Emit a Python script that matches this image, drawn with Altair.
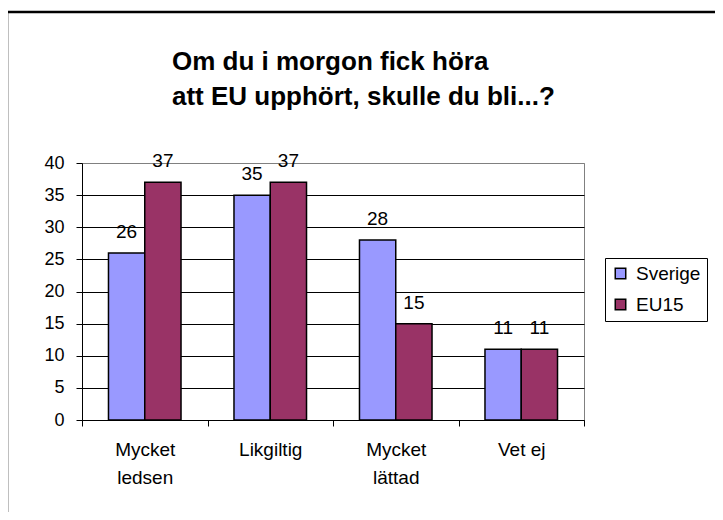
import altair as alt
import pandas as pd

categories = ["Mycket\nledsen", "Likgiltig", "Mycket\nlättad", "Vet ej"]
series = ["Sverige", "EU15"]
sverige = [26, 35, 28, 11]
eu15 = [37, 37, 15, 11]
colors = ["#9999FF", "#993366"]
y_ticks = [0, 5, 10, 15, 20, 25, 30, 35, 40]
title_lines = ["Om du i morgon fick höra", "att EU upphört, skulle du bli...?"]

rows = []
for c, s, e in zip(categories, sverige, eu15):
    rows.append({"kategori": c, "serie": "Sverige", "varde": s})
    rows.append({"kategori": c, "serie": "EU15", "varde": e})
df = pd.DataFrame(rows)

FONT = "Liberation Sans"

x_enc = alt.X(
    "kategori:N",
    sort=categories,
    scale=alt.Scale(paddingInner=0, paddingOuter=0),
    axis=alt.Axis(
        title=None,
        labelAngle=0,
        tickBand="extent",
        labelExpr="split(datum.label, '\\n')",
        labelFontSize=19,
        labelFont=FONT,
        labelColor="black",
        labelPadding=14,
        labelLineHeight=28,
        domainColor="black",
        tickColor="black",
        tickSize=6,
        grid=False,
    ),
)
xo_enc = alt.XOffset(
    "serie:N", sort=series, scale=alt.Scale(paddingInner=0, paddingOuter=0.73)
)
y_enc = alt.Y(
    "varde:Q",
    scale=alt.Scale(domain=[0, 40], nice=False),
    axis=alt.Axis(
        title=None,
        values=y_ticks,
        labelFontSize=18,
        labelFont=FONT,
        labelColor="black",
        labelPadding=12,
        domainColor="black",
        tickColor="black",
        tickSize=6,
        grid=True,
        gridColor=alt.condition("datum.value == 40", alt.value("#808080"), alt.value("black")),
        gridWidth=1,
        gridOpacity=1,
    ),
)

base = alt.Chart(df)

bars = base.mark_bar(stroke="black", strokeWidth=1.5).encode(
    x=x_enc,
    xOffset=xo_enc,
    y=y_enc,
    color=alt.Color(
        "serie:N",
        sort=series,
        scale=alt.Scale(domain=series, range=colors),
        legend=alt.Legend(
            title=None,
            orient="none",
            legendX=523,
            legendY=95,
            strokeColor="black",
            fillColor="white",
            padding=6,
            symbolType="square",
            symbolSize=110,
            symbolStrokeColor="black",
            symbolStrokeWidth=1.5,
            symbolOpacity=1,
            labelFontSize=19,
            labelFont=FONT,
            labelColor="black",
            rowPadding=11,
            labelOffset=6,
        ),
    ),
)

labels = base.mark_text(
    baseline="alphabetic", dy=-15, fontSize=19, font=FONT, color="black"
).encode(
    x=x_enc,
    xOffset=xo_enc,
    y=y_enc,
    text=alt.Text("varde:Q"),
)

frame = alt.Chart(pd.DataFrame({"f": [0]})).mark_rect(
    filled=False, stroke="black", strokeWidth=2.5
).encode(
    x=alt.value(-75),
    x2=alt.value(700),
    y=alt.value(-151),
    y2=alt.value(500),
)

chart = alt.layer(frame, bars, labels).properties(
    width=502,
    height=257,
    autosize=alt.AutoSizeParams(type="none"),
    padding={"left": 74, "top": 155, "right": 131, "bottom": 92},
    title=alt.Title(
        text=title_lines,
        anchor="start",
        frame="group",
        align="left",
        baseline="alphabetic",
        dx=90,
        dy=120,
        offset=0,
        fontSize=26,
        font=FONT,
        fontWeight="bold",
        color="black",
        lineHeight=35,
    ),
).configure_view(stroke="#808080", strokeWidth=1)

chart.save("out.html", embed_options={"renderer": "svg", "actions": False})
